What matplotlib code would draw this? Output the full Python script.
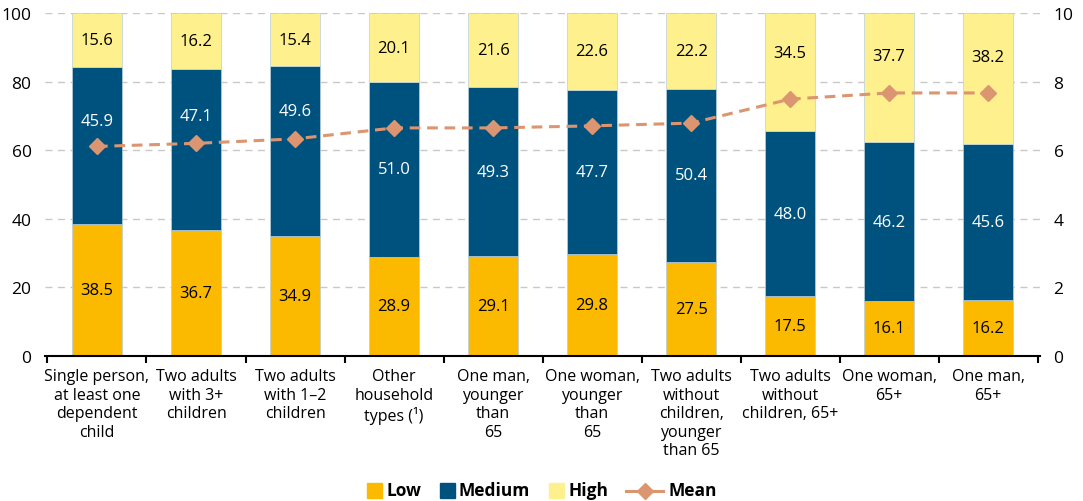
import matplotlib.pyplot as plt
import numpy as np
from matplotlib.lines import Line2D
from matplotlib.patches import Rectangle

plt.rcParams['font.family'] = ['Open Sans', 'DejaVu Sans']

categories = [
    "Single person,\nat least one\ndependent\nchild",
    "Two adults\nwith 3+\nchildren",
    "Two adults\nwith 1\u20132\nchildren",
    "Other\nhousehold\ntypes (\u00b9)",
    "One man,\nyounger\nthan\n65",
    "One woman,\nyounger\nthan\n65",
    "Two adults\nwithout\nchildren,\nyounger\nthan 65",
    "Two adults\nwithout\nchildren, 65+",
    "One woman,\n65+",
    "One man,\n65+",
]
low = [38.5, 36.7, 34.9, 28.9, 29.1, 29.8, 27.5, 17.5, 16.1, 16.2]
medium = [45.9, 47.1, 49.6, 51.0, 49.3, 47.7, 50.4, 48.0, 46.2, 45.6]
high = [15.6, 16.2, 15.4, 20.1, 21.6, 22.6, 22.2, 34.5, 37.7, 38.2]
mean = [6.11, 6.20, 6.33, 6.65, 6.65, 6.71, 6.79, 7.49, 7.67, 7.67]

# label nudges (layout only) so values clear the mean line
med_shift = [7.2, 9.6, 11.8, 0, 0, 0, 0, 0, 0, 0]
high_shift = [0, 0, 0, 0, 0, 0, 0, 5.7, 6.4, 6.2]

c_low = "#FBB900"
c_med = "#00527E"
c_high = "#FFF08E"
c_mean = "#DB9570"

W, H = 1083, 502
fig = plt.figure(figsize=(W / 100, H / 100), dpi=100)
ax = fig.add_axes([0.042, 0.289, 0.918, 0.683])
x = np.arange(len(categories))
w = 0.5

ax.set_axisbelow(True)
ax.yaxis.grid(True, linestyle=(0, (5, 4)), color="#C8C8C8", linewidth=1)

ec = "#B9CFDC"
ax.bar(x, low, w, color=c_low, edgecolor=ec, linewidth=0.5)
ax.bar(x, medium, w, bottom=low, color=c_med, edgecolor=ec, linewidth=0.5)
bot3 = [a + b for a, b in zip(low, medium)]
ax.bar(x, high, w, bottom=bot3, color=c_high, edgecolor=ec, linewidth=0.5)

fs = 12
for i in range(len(x)):
    ax.text(x[i], low[i] / 2, f"{low[i]:.1f}", ha="center", va="center", fontsize=fs, color="black")
    ax.text(x[i], low[i] + medium[i] / 2 + med_shift[i], f"{medium[i]:.1f}", ha="center", va="center",
            fontsize=fs, color="white")
    ax.text(x[i], bot3[i] + high[i] / 2 + high_shift[i], f"{high[i]:.1f}", ha="center", va="center",
            fontsize=fs, color="black")

ax.set_ylim(0, 100)
ax.set_xlim(-0.52, len(x) - 0.48)
ax.set_yticks(range(0, 101, 20))
ax.set_xticks(x)
ax.set_xticklabels(categories, fontsize=11.5, linespacing=1.2)
ax.tick_params(axis="x", length=0, pad=9)
ax.set_xticks(np.arange(-0.5, len(x), 1), minor=True)
ax.tick_params(axis="x", which="minor", length=5, width=1.5, color="black")
ax.tick_params(axis="y", length=0, labelsize=12.5, pad=10)
for s in ["top", "right", "left"]:
    ax.spines[s].set_visible(False)
ax.spines["bottom"].set_linewidth(1.5)

ax2 = ax.twinx()
ax2.plot(x, mean, color=c_mean, linestyle=(0, (3.5, 2.2)), linewidth=2.2, marker="D", markersize=8.5)
ax2.set_ylim(0, 10)
ax2.set_yticks(range(0, 11, 2))
ax2.tick_params(axis="y", length=0, labelsize=12.5, pad=10)
for s in ["top", "right", "left", "bottom"]:
    ax2.spines[s].set_visible(False)

# legend drawn by hand to match the compact look
def fx(px):
    return px / W

def fy(py):
    return 1 - py / H

ly = 491.5
sq = 15
for px, col, lab in [(367, c_low, "Low"), (440, c_med, "Medium"), (549, c_high, "High")]:
    fig.add_artist(Rectangle((fx(px), fy(ly + sq / 2)), sq / W, sq / H, color=col,
                             transform=fig.transFigure))
    fig.text(fx(px + sq + 4), fy(ly), lab, ha="left", va="center", fontsize=12.5, fontweight="bold")
for a, b in [(626, 637), (652, 663)]:
    fig.add_artist(Line2D([fx(a), fx(b)], [fy(ly), fy(ly)], color=c_mean, linewidth=2.2,
                          transform=fig.transFigure))
fig.add_artist(Line2D([fx(644.5)], [fy(ly)], color=c_mean, marker="D", markersize=8.5,
                      transform=fig.transFigure))
fig.text(fx(668), fy(ly), "Mean", ha="left", va="center", fontsize=12.5, fontweight="bold")

fig.savefig("out.png", dpi=100)
